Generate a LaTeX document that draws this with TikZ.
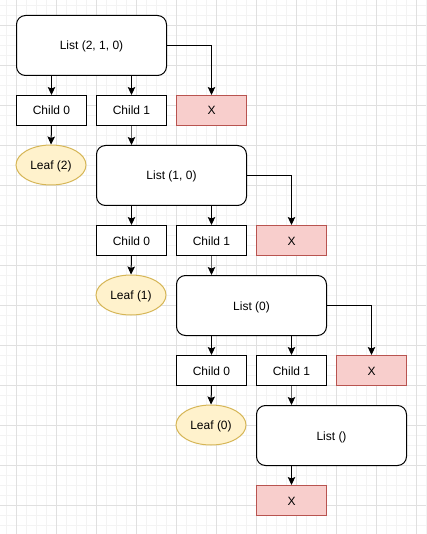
\documentclass[tikz,border=0pt]{standalone}
\usepackage{fontspec}
\setmainfont{Liberation Sans}
\usetikzlibrary{arrows.meta,shapes.geometric}
\definecolor{redfill}{HTML}{F8CECC}
\definecolor{redline}{HTML}{B85450}
\definecolor{yelfill}{HTML}{FFF2CC}
\definecolor{yelline}{HTML}{D6B656}
\definecolor{gridminor}{HTML}{F3F3F3}
\definecolor{gridmajor}{HTML}{E0E0E0}
\tikzset{
  base/.style={draw=black, line width=1pt, font=\fontsize{12}{14}\selectfont, inner sep=0pt, text depth=0pt, text height=9pt, anchor=north west},
  listbox/.style={base, rounded corners=9pt, minimum width=150pt, minimum height=60pt, fill=white},
  childbox/.style={base, minimum width=70pt, minimum height=30pt, fill=white},
  xbox/.style={base, draw=redline, fill=redfill, minimum width=70pt, minimum height=30pt},
  leaf/.style={base, ellipse, anchor=center, draw=yelline, fill=yelfill, minimum width=70pt, minimum height=40pt},
  arr/.style={line width=1pt, -{Stealth[length=8pt,width=7.5pt,inset=1.5pt]}},
  arrg/.style={line width=1pt, draw=black!60, -{Stealth[length=8pt,width=7.5pt,inset=1.5pt,color=black]}}
}
\begin{document}
\begin{tikzpicture}[x=1pt,y=-1pt]
\useasboundingbox (0,0) rectangle (426,534);
\fill[white] (0,0) rectangle (426,534);
% grid
\foreach \i in {-4,...,43} {\draw[gridminor, line width=0.6pt] (6+10*\i,0) -- (6+10*\i,534);}
\foreach \i in {-3,...,54} {\draw[gridminor, line width=0.6pt] (0,5+10*\i) -- (426,5+10*\i);}
\foreach \i in {0,...,10} {\draw[gridmajor, line width=0.8pt] (16+40*\i,0) -- (16+40*\i,534);}
\foreach \i in {0,...,13} {\draw[gridmajor, line width=0.8pt] (0,25+40*\i) -- (426,25+40*\i);}

% level 1
\node[listbox] (L1) at (16,15) {List (2, 1, 0)};
\node[childbox] (c10) at (16,95) {Child 0};
\node[childbox] (c11) at (96,95) {Child 1};
\node[xbox] (x1) at (176,95) {X};
\node[leaf] (lf2) at (51,165) {Leaf (2)};
% level 2
\node[listbox] (L2) at (96,145) {List (1, 0)};
\node[childbox] (c20) at (96,225) {Child 0};
\node[childbox] (c21) at (176,225) {Child 1};
\node[xbox] (x2) at (256,225) {X};
\node[leaf] (lf1) at (131,295) {Leaf (1)};
% level 3
\node[listbox] (L3) at (176,275) {List (0)};
\node[childbox] (c30) at (176,355) {Child 0};
\node[childbox] (c31) at (256,355) {Child 1};
\node[xbox] (x3) at (336,355) {X};
\node[leaf] (lf0) at (211,425) {Leaf (0)};
% level 4
\node[listbox] (L4) at (256,405) {List ()};
\node[xbox] (x4) at (256,485) {X};

% arrows level 1
\draw[arr] (L1.south -| c10.north) -- (c10.north);
\draw[arr] (L1.south -| c11.north) -- (c11.north);
\draw[arr] (L1.east) -| (x1.north);
\draw[arr] (c10.south) -- (lf2.north);
\draw[arrg] (c11.south) -- (L2.north -| c11.south);
% level 2
\draw[arr] (L2.south -| c20.north) -- (c20.north);
\draw[arr] (L2.south -| c21.north) -- (c21.north);
\draw[arr] (L2.east) -| (x2.north);
\draw[arr] (c20.south) -- (lf1.north);
\draw[arrg] (c21.south) -- (L3.north -| c21.south);
% level 3
\draw[arr] (L3.south -| c30.north) -- (c30.north);
\draw[arr] (L3.south -| c31.north) -- (c31.north);
\draw[arr] (L3.east) -| (x3.north);
\draw[arr] (c30.south) -- (lf0.north);
\draw[arrg] (c31.south) -- (L4.north -| c31.south);
% level 4
\draw[arr] (L4.south -| x4.north) -- (x4.north);
\end{tikzpicture}
\end{document}
